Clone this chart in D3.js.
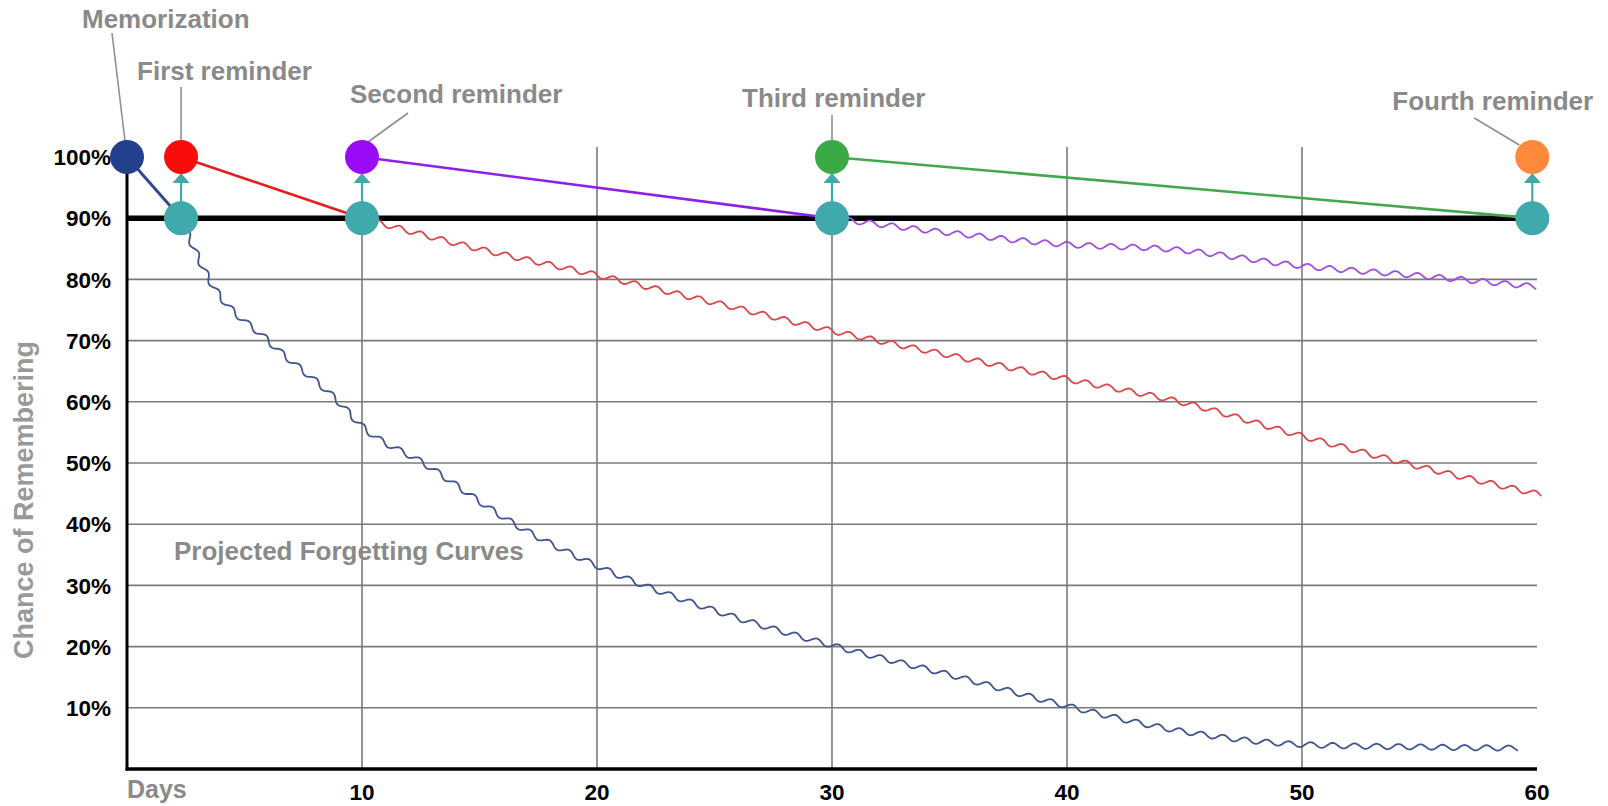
<!DOCTYPE html>
<html><head><meta charset="utf-8">
<script src="https://cdn.jsdelivr.net/npm/d3@7"></script>
<style>
body{margin:0;background:#fff;}
text{font-family:"Liberation Sans",Arial,Helvetica,sans-serif;font-weight:bold;}
</style>
</head><body>
<svg id="chart" width="1608" height="806"></svg>
<script>
// ---------------- DATA ----------------
const xTickValues = [0, 10, 20, 30, 40, 50, 60];
const xTickLabels = ["Days", "10", "20", "30", "40", "50", "60"];
const yTickValues = [10, 20, 30, 40, 50, 60, 70, 80, 90, 100];
const yTickLabels = ["10%", "20%", "30%", "40%", "50%", "60%", "70%", "80%", "90%", "100%"];
const yAxisTitle = "Chance of Remembering";
const curvesTitle = "Projected Forgetting Curves";
const thresholdValue = 90;

const eventNames  = ["Memorization", "First reminder", "Second reminder", "Third reminder", "Fourth reminder"];
const eventDays   = [0, 2.3, 10, 30, 59.8];
const eventValues = [100, 100, 100, 100, 100];

const reviewDays   = [2.3, 10, 30, 59.8];
const reviewValues = [90, 90, 90, 90];

const curveMemorizationDays   = [2.3, 3.5, 6, 9, 10, 12.6, 16.5, 20, 25, 30, 35, 40, 45, 50, 55, 59.2];
const curveMemorizationValues = [90, 80, 70, 60, 56, 50, 40, 33.2, 25.9, 20.2, 15.4, 10.3, 6.1, 4.0, 3.6, 3.4];
const curveFirstDays   = [10, 14.2, 20, 25, 30, 35, 40, 45, 50, 55, 60.2];
const curveFirstValues = [90, 85.7, 80.7, 76.2, 71.6, 67.6, 63.7, 59.8, 54.4, 49.4, 44.8];
const curveSecondDays   = [30, 35, 40, 44.5, 50, 55, 60];
const curveSecondValues = [90, 87.6, 85.7, 84.9, 82.2, 80.6, 78.8];

// ---------------- STYLE / LAYOUT ----------------
const eventColors = ["#243f8c", "#fb0c0c", "#9a0cf5", "#3ba946", "#fd8a3a"];
const decayColors = ["#2f4b8f", "#e41d1d", "#8d1fe6", "#43a84d"];
const waveColors  = ["#40548f", "#d84848", "#a04ee0"];
const teal = "#3fa9ab";
const annotationGray = "#8a8a8a";
// label offsets relative to the event circle centre: text start/baseline, leader start/end
const annotationLayout = [
  {tx: -45, ty: -129, l: [-15, -124, -2, -16]},
  {tx: -44, ty: -77,  l: [0, -70, 0, -17]},
  {tx: -12, ty: -54,  l: [46, -44, 6, -15]},
  {tx: -90, ty: -50,  l: [0, -42, 0, -10]},
  {tx: -140, ty: -47, l: [-58, -39, -13, -12]}
];

const svg = d3.select("#chart");
const x = d3.scaleLinear().domain([0, 60]).range([127, 1537]);
const y = d3.scaleLinear().domain([0, 100]).range([769, 157]);
const R = 17;

// gridlines
const grid = svg.append("g");
grid.selectAll("line.h").data(yTickValues.filter(v => v < thresholdValue)).join("line")
  .attr("x1", x(0)).attr("x2", x(60)).attr("y1", d => y(d)).attr("y2", d => y(d))
  .attr("stroke", "#7a7a7a").attr("stroke-width", 1.6);
grid.selectAll("line.v").data(xTickValues.filter(v => v > 0 && v < 60)).join("line")
  .attr("x1", d => x(d)).attr("x2", d => x(d)).attr("y1", y(100) - 10).attr("y2", y(0))
  .attr("stroke", "#7a7a7a").attr("stroke-width", 1.6);

// axes
svg.append("line").attr("x1", x(0)).attr("x2", x(0)).attr("y1", y(100)).attr("y2", y(0) + 1.5)
  .attr("stroke", "#000").attr("stroke-width", 3);
svg.append("line").attr("x1", x(0) - 1.5).attr("x2", x(60)).attr("y1", y(0)).attr("y2", y(0))
  .attr("stroke", "#000").attr("stroke-width", 3.5);

// y tick labels
svg.append("g").selectAll("text").data(yTickValues).join("text")
  .attr("x", 111).attr("y", d => y(d)).attr("dy", "0.36em").attr("text-anchor", "end")
  .attr("font-size", 22.5).attr("fill", "#000").text((d, i) => yTickLabels[i]);

// x tick labels
svg.append("g").selectAll("text").data(xTickValues).join("text")
  .attr("x", d => x(d)).attr("y", d => d === 0 ? 798 : 800)
  .attr("text-anchor", d => d === 0 ? "start" : "middle")
  .attr("font-size", d => d === 0 ? 25 : 22.5)
  .attr("fill", d => d === 0 ? annotationGray : "#000")
  .text((d, i) => xTickLabels[i]);

// y axis title
svg.append("text").attr("transform", "translate(33,500) rotate(-90)")
  .attr("text-anchor", "middle").attr("font-size", 27).attr("fill", "#999").text(yAxisTitle);

// curves title
svg.append("text").attr("x", x(2)).attr("y", 560).attr("font-size", 26)
  .attr("fill", annotationGray).text(curvesTitle);

// threshold line
svg.append("line").attr("x1", x(0)).attr("x2", x(reviewDays[3])).attr("y1", y(thresholdValue)).attr("y2", y(thresholdValue))
  .attr("stroke", "#000").attr("stroke-width", 5.5);

// wavy forgetting curves (the ripple is a drawing style applied along the smooth data curve)
function wavy(days, vals, amp, wl) {
  const base = d3.line().x((d, i) => x(days[i])).y((d, i) => y(vals[i])).curve(d3.curveMonotoneX)(days);
  const p = svg.append("path").attr("d", base).attr("fill", "none");
  const node = p.node();
  const L = node.getTotalLength();
  const pts = [];
  for (let s = 0; s <= L; s += 0.8) {
    const a = node.getPointAtLength(s);
    const b = node.getPointAtLength(Math.min(L, s + 0.6));
    const c = node.getPointAtLength(Math.max(0, s - 0.6));
    const tx = b.x - c.x, ty = b.y - c.y, n = Math.hypot(tx, ty) || 1;
    const o = amp * Math.sin(2 * Math.PI * s / wl);
    pts.push([a.x - ty / n * o, a.y + tx / n * o]);
  }
  p.remove();
  return d3.line()(pts);
}
const curveSets = [
  [curveMemorizationDays, curveMemorizationValues],
  [curveFirstDays, curveFirstValues],
  [curveSecondDays, curveSecondValues]
];
svg.append("g").selectAll("path").data(curveSets).join("path")
  .attr("d", d => wavy(d[0], d[1], 2.6, 22))
  .attr("fill", "none").attr("stroke", (d, i) => waveColors[i]).attr("stroke-width", 1.8);

// straight decay lines
svg.append("g").selectAll("line").data(reviewDays).join("line")
  .attr("x1", (d, i) => x(eventDays[i])).attr("y1", (d, i) => y(eventValues[i]))
  .attr("x2", (d, i) => x(d)).attr("y2", (d, i) => y(reviewValues[i]))
  .attr("stroke", (d, i) => decayColors[i]).attr("stroke-width", (d, i) => i === 0 ? 3 : 2.6);

// teal arrows
const arrows = svg.append("g");
arrows.selectAll("line").data(reviewDays).join("line")
  .attr("x1", d => x(d)).attr("x2", d => x(d))
  .attr("y1", (d, i) => y(reviewValues[i]) - R + 2).attr("y2", (d, i) => y(eventValues[i + 1]) + R + 6)
  .attr("stroke", teal).attr("stroke-width", 2.2);
arrows.selectAll("path").data(reviewDays).join("path")
  .attr("d", (d, i) => {
    const cx = x(d), tip = y(eventValues[i + 1]) + R - 1, base = tip + 10;
    return `M${cx},${tip}L${cx + 8.5},${base}L${cx - 8.5},${base}Z`;
  })
  .attr("fill", teal);

// teal review circles
svg.append("g").selectAll("circle").data(reviewDays).join("circle")
  .attr("cx", d => x(d)).attr("cy", (d, i) => y(reviewValues[i])).attr("r", R).attr("fill", teal);

// annotation leader lines
svg.append("g").selectAll("line").data(eventDays).join("line")
  .attr("x1", (d, i) => x(d) + annotationLayout[i].l[0]).attr("y1", (d, i) => y(eventValues[i]) + annotationLayout[i].l[1])
  .attr("x2", (d, i) => x(d) + annotationLayout[i].l[2]).attr("y2", (d, i) => y(eventValues[i]) + annotationLayout[i].l[3])
  .attr("stroke", "#8f8f8f").attr("stroke-width", 1.6);

// event circles
svg.append("g").selectAll("circle").data(eventDays).join("circle")
  .attr("cx", d => x(d)).attr("cy", (d, i) => y(eventValues[i])).attr("r", R)
  .attr("fill", (d, i) => eventColors[i]);

// annotation labels
svg.append("g").selectAll("text").data(eventDays).join("text")
  .attr("x", (d, i) => x(d) + annotationLayout[i].tx).attr("y", (d, i) => y(eventValues[i]) + annotationLayout[i].ty)
  .attr("font-size", 26).attr("fill", annotationGray).text((d, i) => eventNames[i]);
</script>
</body></html>
